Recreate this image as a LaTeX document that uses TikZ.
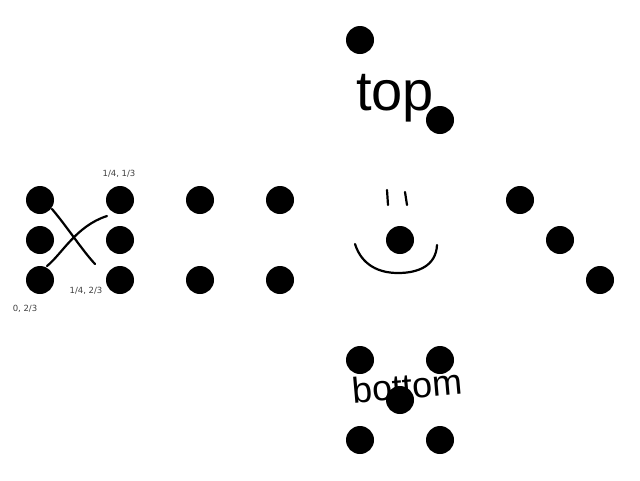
\documentclass[tikz,border=0pt]{standalone}
\usepackage{fontspec}
\setmainfont{Liberation Sans}
\newfontfamily\labfont{DejaVu Sans}
\begin{document}
\begin{tikzpicture}[x=1pt,y=-1pt,
  dot/.style={circle,fill=black,inner sep=0pt,minimum size=28pt},
  stroke/.style={line width=2.2pt,line cap=round,line join=round},
  lab/.style={font=\labfont\fontsize{8.5}{9}\selectfont,text=black!75,inner sep=0pt},
  hand/.style={inner sep=0pt,text=black}]
\useasboundingbox (0,0) rectangle (640,480);
% left block
\node[dot] (a1) at (40,200) {};
\node[dot] (a2) at (40,240) {};
\node[dot] (a3) at (40,280) {};
\node[dot] (b1) at (120,200) {};
\node[dot] (b2) at (120,240) {};
\node[dot] (b3) at (120,280) {};
\node[dot] (c1) at (200,200) {};
\node[dot] (c3) at (200,280) {};
\node[dot] (d1) at (280,200) {};
\node[dot] (d3) at (280,280) {};
% top
\node[dot] (t1) at (360,40) {};
\node[dot] (t2) at (440,120) {};
% center
\node[dot] (m) at (400,240) {};
% diagonal
\node[dot] (r1) at (520,200) {};
\node[dot] (r2) at (560,240) {};
\node[dot] (r3) at (600,280) {};
% bottom
\node[dot] (q1) at (360,360) {};
\node[dot] (q2) at (440,360) {};
\node[dot] (q3) at (400,400) {};
\node[dot] (q4) at (360,440) {};
\node[dot] (q5) at (440,440) {};
% cross
\coordinate (x1) at (52,209);
\coordinate (x2) at (95,264);
\coordinate (y1) at (47,266);
\coordinate (y2) at (107,216);
\draw[stroke] (x1) .. controls (68,228) and (82,250) .. (x2);
\draw[stroke] (y1) .. controls (62,254) and (76,226) .. (y2);
% labels
\node[lab] (l1) at (119,174) {1/4, 1/3};
\node[lab] (l2) at (86,291) {1/4, 2/3};
\node[lab] (l3) at (25,309) {0, 2/3};
% smile
\coordinate (e1a) at (387,190);
\coordinate (e1b) at (388,205);
\coordinate (e2a) at (405,192);
\coordinate (e2b) at (407,205);
\draw[stroke] (e1a) -- (e1b);
\draw[stroke] (e2a) -- (e2b);
\coordinate (s1) at (355,244);
\coordinate (s2) at (437,245);
\draw[stroke] (s1) .. controls (362,266) and (380,273) .. (398,273) .. controls (418,273) and (436,266) .. (s2);
% handwritten words
\node[hand,font=\fontsize{56}{60}\selectfont] (top) at (395,98) {top};
\node[hand,font=\fontsize{36}{40}\selectfont,rotate=5] (bot) at (407,386) {bottom};
\end{tikzpicture}
\end{document}
